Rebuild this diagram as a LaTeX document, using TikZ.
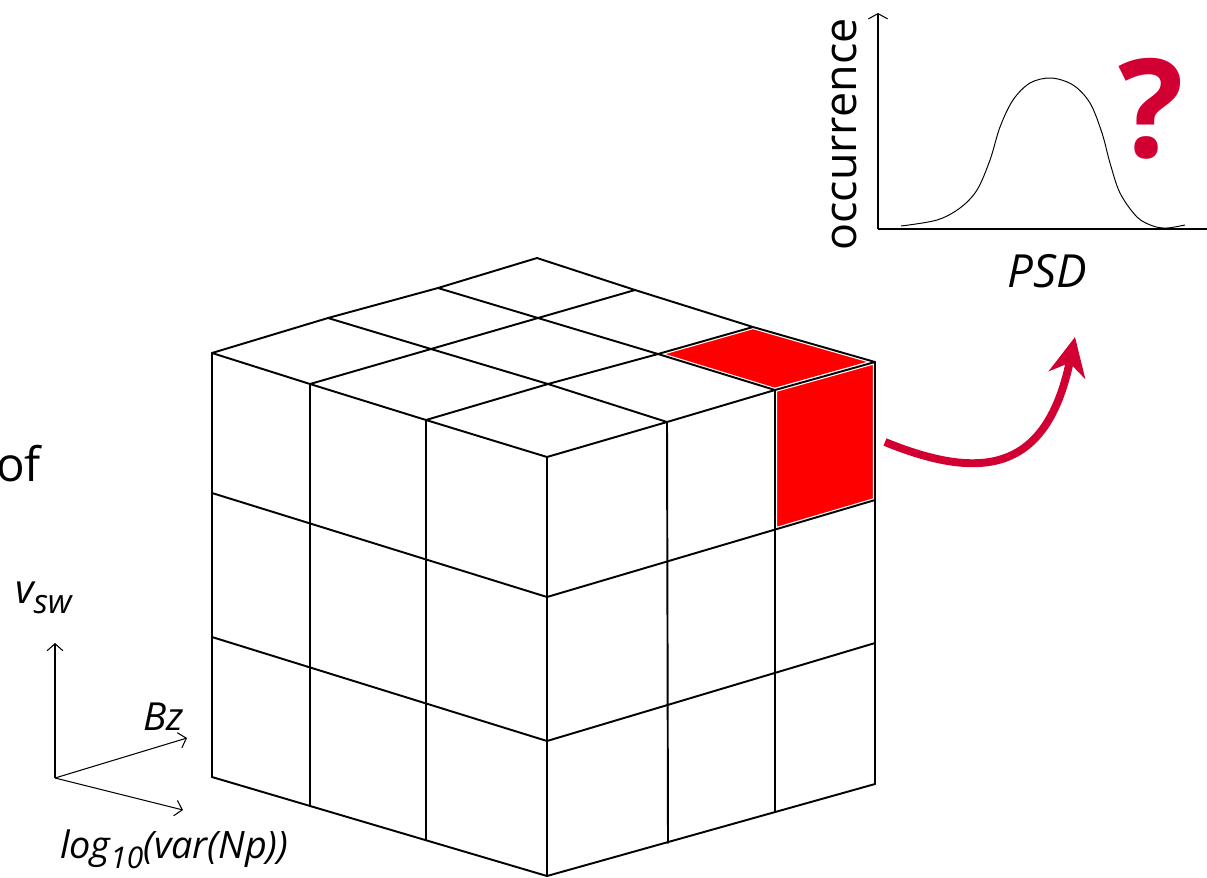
\documentclass[tikz,border=0pt]{standalone}
\usepackage{fontspec}
\setmainfont{Open Sans}
\usetikzlibrary{arrows.meta}
\definecolor{crimson}{RGB}{210,0,50}
\definecolor{cellred}{RGB}{255,0,0}
\begin{document}
\begin{tikzpicture}[x=0.02cm,y=-0.02cm,
  gridline/.style={line width=1.1pt, line cap=round, line join=round},
  redcell/.style={fill=cellred, draw=white, line width=2.4pt, line join=round},
  thinaxis/.style={line width=0.6pt},
  lbl/.style={inner sep=0pt, outer sep=0pt}]
\clip (0,0) rectangle (1207,877);
% ---- top face grid points
\coordinate (P00) at (212,353); \coordinate (P10) at (310,384); \coordinate (P20) at (426,420); \coordinate (P30) at (547,457);
\coordinate (P01) at (328,318); \coordinate (P11) at (431,349); \coordinate (P21) at (548,384); \coordinate (P31) at (667,422);
\coordinate (P02) at (438,288); \coordinate (P12) at (538,318); \coordinate (P22) at (658,354); \coordinate (P32) at (775,390);
\coordinate (P03) at (537,258); \coordinate (P13) at (635,290); \coordinate (P23) at (753,327); \coordinate (P33) at (875,362);
% ---- left face bottom points
\coordinate (L0) at (212,777); \coordinate (L1) at (310,806); \coordinate (L2) at (426,840); \coordinate (L3) at (547,876);
% ---- right face bottom points
\coordinate (R1) at (668,843); \coordinate (R2) at (775,812); \coordinate (R3) at (875,784);
% ---- horizontal levels
\coordinate (A1) at (212,493); \coordinate (A2) at (212,637);
\coordinate (F1) at (547,597); \coordinate (F2) at (547,741);
\coordinate (E1) at (875,500); \coordinate (E2) at (875,643);
\coordinate (C1) at (775,529.5);
% ---- red cells
\draw[redcell] (P22) -- (P23) -- (P33) -- (P32) -- cycle;
\draw[redcell] (P32) -- (P33) -- (E1) -- (C1) -- cycle;
% ---- top face
\draw[gridline] (P00) -- (P10) -- (P20) -- (P30);
\draw[gridline] (P01) -- (P11) -- (P21) -- (P31);
\draw[gridline] (P02) -- (P12) -- (P22) -- (P32);
\draw[gridline] (P03) -- (P13) -- (P23) -- (P33);
\draw[gridline] (P00) -- (P01) -- (P02) -- (P03);
\draw[gridline] (P10) -- (P11) -- (P12) -- (P13);
\draw[gridline] (P20) -- (P21) -- (P22) -- (P23);
\draw[gridline] (P30) -- (P31) -- (P32) -- (P33);
% ---- left face
\draw[gridline] (P00) -- (L0);
\draw[gridline] (P10) -- (L1);
\draw[gridline] (P20) -- (L2);
\draw[gridline] (P30) -- (L3);
\draw[gridline] (A1) -- (F1);
\draw[gridline] (A2) -- (F2);
\draw[gridline] (L0) -- (L3);
% ---- right face
\draw[gridline] (P31) -- (R1);
\draw[gridline] (P32) -- (R2);
\draw[gridline] (P33) -- (R3);
\draw[gridline] (F1) -- (E1);
\draw[gridline] (F2) -- (E2);
\draw[gridline] (L3) -- (R3);
% ---- axes triad
\coordinate (O) at (55,778);
\coordinate (Vt) at (55,643);
\coordinate (Bt) at (187,738);
\coordinate (Nt) at (183,810);
\draw[thinaxis, -{Straight Barb[length=4pt,width=9pt]}] (O) -- (Vt);
\draw[thinaxis, -{Straight Barb[length=4pt,width=9pt]}] (O) -- (Bt);
\draw[thinaxis, -{Straight Barb[length=4pt,width=9pt]}] (O) -- (Nt);
\node[lbl, anchor=base west] (vsw) at (15,603) {\fontsize{23pt}{27pt}\selectfont\itshape v\raisebox{-6pt}{\fontsize{19pt}{22pt}\selectfont sw}};
\node[lbl, anchor=base west] (bz) at (143,730) {\fontsize{22pt}{26pt}\selectfont\itshape Bz};
\node[lbl, anchor=base west] (lognp) at (60,858) {\fontsize{21.5pt}{26pt}\selectfont\itshape log\raisebox{-6pt}{\fontsize{17pt}{20pt}\selectfont 10}(var(Np))};
\node[lbl, anchor=base east] (of) at (41,481) {\fontsize{27pt}{32pt}\selectfont of};
% ---- distribution plot
\coordinate (PO) at (878,229);
\coordinate (PY) at (878,13);
\coordinate (PX) at (1207,229);
\draw[thinaxis] (PO) -- (PX);
\draw[thinaxis, -{Straight Barb[length=3pt,width=11pt]}] (PO) -- (PY);
\draw[line width=0.55pt] plot[smooth, tension=0.55] coordinates {(901,226) (937,220) (960,208) (977,190) (990,160) (1000,127) (1013,100) (1030,83) (1051,78) (1073,85) (1090,103) (1102,133) (1110,163) (1120,193) (1137,217) (1153,226) (1167,228) (1185,225)};
\node[lbl, rotate=90, anchor=base] (occ) at (856,134.5) {\fontsize{25.5pt}{30pt}\selectfont occurrence};
\node[lbl, anchor=base] (psd) at (1047,287) {\fontsize{26pt}{31pt}\selectfont\itshape PSD};
\node[lbl, anchor=base, text=crimson] (qm) at (1151,157) {\fontsize{78pt}{90pt}\selectfont\bfseries ?};
% ---- red arrow
\coordinate (As) at (885,442);
\coordinate (Ae) at (1075,337);
\draw[crimson, line width=4.5pt, -{Stealth[length=22pt,width=21pt,inset=7pt]}] (As) .. controls (990,485) and (1048,465) .. (Ae);
\end{tikzpicture}
\end{document}
